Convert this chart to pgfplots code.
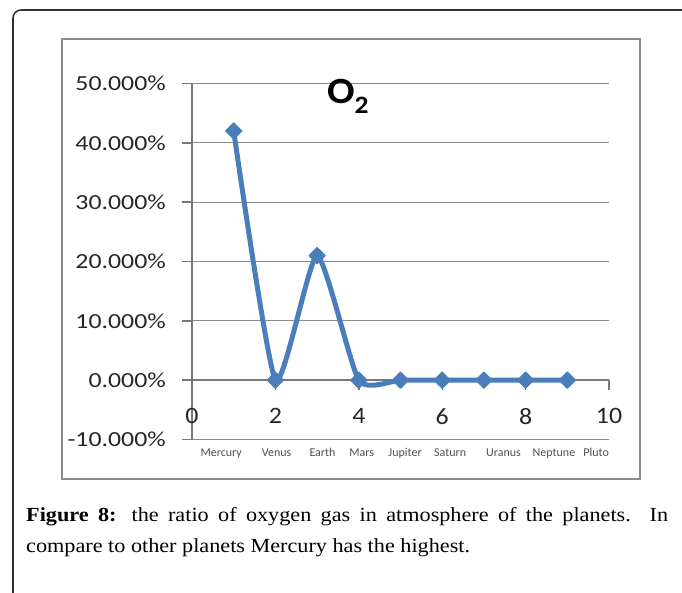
\documentclass[border=0pt]{standalone}
\usepackage{fontspec}
\setmainfont{Carlito}
\usepackage{pgfplots}
\pgfplotsset{compat=1.18}
\newfontfamily\ytickfam[FakeStretch=1.2]{Carlito}
\newfontfamily\xtickfam[FakeStretch=1.1]{Carlito}
\newfontfamily\titlefam[FakeStretch=1.1]{Carlito}
\newfontfamily\capfam[FakeStretch=1.11]{Liberation Serif}
\newcommand{\ytickfont}{\ytickfam\fontsize{21.5}{24}\selectfont}
\newcommand{\xtickfont}{\xtickfam\fontsize{23.5}{26}\selectfont}
\definecolor{curve}{RGB}{74,126,187}
\definecolor{gridgray}{RGB}{140,140,140}
\definecolor{axisgray}{RGB}{120,120,120}
\definecolor{boxgray}{RGB}{140,140,140}
\definecolor{labgray}{RGB}{80,80,80}
\begin{document}
\begin{tikzpicture}[x=1pt,y=1pt]
\useasboundingbox (0,0) rectangle (682,-592);
% outer frame
\draw[line width=1.6pt, black!80, rounded corners=8pt] (13,-600) -- (13,-10) -- (700,-10);
% chart box
\draw[boxgray, line width=1.5pt] (62,-39) rectangle (640,-479);
\begin{axis}[
  at={(192pt,-439.5pt)}, anchor=south west,
  scale only axis, width=417pt, height=356pt,
  xmin=0, xmax=10, ymin=-10, ymax=50,
  axis x line*=middle, axis y line*=left,
  hide obscured x ticks=false,
  xtick={0,2,4,6,8,10}, ytick={-10,0,10,20,30,40,50},
  yticklabels={-10.000\%,0.000\%,10.000\%,20.000\%,30.000\%,40.000\%,50.000\%},
  xticklabels={0,2,4,6,8,10},
  tick align=outside, major tick length=10pt,
  ymajorgrids, grid style={gridgray, line width=1.2pt},
  axis line style={axisgray, line width=1.4pt},
  tick style={axisgray, line width=1.4pt},
  yticklabel style={font=\ytickfont, inner sep=0pt, text=black!85, xshift=-16pt},
  xticklabel style={font=\xtickfont, inner sep=0pt, text=black!85, anchor=center, yshift=-26pt},
  clip=false,
]
\addplot[smooth, tension=0.33, color=curve, line width=5pt, line join=round,
  mark=square*, mark size=5.8pt, mark options={rotate=45, line width=1pt, solid, fill=curve}]
  coordinates {(1,42) (2,0) (3,21) (4,0) (5,0) (6,0) (7,0) (8,0) (9,0)};
\foreach \px/\nm in {0.70/Mercury, 2.03/Venus, 3.13/Earth, 4.07/Mars, 5.11/Jupiter, 6.19/Saturn, 7.47/Uranus, 8.68/Neptune, 9.69/Pluto}{
  \edef\tmp{\noexpand\node[anchor=base, inner sep=0pt, font=\noexpand\fontsize{12}{14}\noexpand\selectfont, text=labgray] at (axis cs:\px,-12.9) {\nm};}
  \tmp
}
\end{axis}
% title
\node[anchor=base west, inner sep=0pt] at (327,-103) {\titlefam\bfseries\fontsize{37}{40}\selectfont O\raisebox{-10pt}{\fontsize{25}{28}\selectfont 2}};
% caption
\node[anchor=base west, inner sep=0pt] at (26,-521) {\capfam\fontsize{20}{24}\selectfont\makebox[642pt][s]{\textbf{Figure 8:} the ratio of oxygen gas in atmosphere of the planets. In}};
\node[anchor=base west, inner sep=0pt] at (26,-552) {\capfam\fontsize{20}{24}\selectfont compare to other planets Mercury has the highest.};
\end{tikzpicture}
\end{document}
